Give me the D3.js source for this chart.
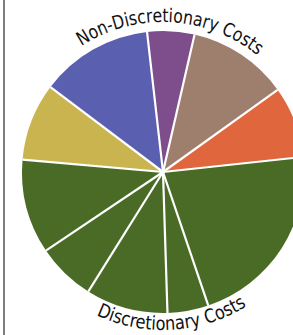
<!DOCTYPE html>
<html><head><meta charset="utf-8">
<script src="https://cdn.jsdelivr.net/npm/d3@7"></script>
<style>
html,body{margin:0;padding:0;background:#fff;}
svg{display:block;}
</style></head>
<body>
<svg id="chart" width="293" height="335"></svg>
<script>
// categories (slices, clockwise from top)
const categories = ["Non-Disc A","Non-Disc B","Non-Disc C","Disc A","Disc B","Disc C","Disc D","Disc E","Non-Disc D","Non-Disc E"];
// share of total (%)
const values = [5.4, 11.5, 8.2, 21.5, 4.7, 9.4, 6.7, 10.8, 8.9, 12.9];
const colors = ["#7e4e8c","#9e7e6c","#e0663d","#4a6b26","#4a6b26","#4a6b26","#4a6b26","#4a6b26","#c9b450","#5a5fb0"];
const groupLabels = ["Non-Discretionary Costs","Discretionary Costs"];

const svg = d3.select("#chart");
const cx = 163, cy = 172, R = 141;
const g = svg.append("g").attr("transform", `translate(${cx},${cy})`);

const pie = d3.pie().sort(null).value(d => d)
  .startAngle(-6.5 * Math.PI/180).endAngle(353.5 * Math.PI/180);
const arcs = pie(values);
const arc = d3.arc().innerRadius(0).outerRadius(R);

g.selectAll("path.slice").data(arcs).enter().append("path")
  .attr("class","slice")
  .attr("d", arc)
  .attr("fill", (d,i) => colors[i]);

// white separators
g.selectAll("line.sep").data(arcs).enter().append("line")
  .attr("x1",0).attr("y1",0)
  .attr("x2", d => R*Math.sin(d.startAngle))
  .attr("y2", d => -R*Math.cos(d.startAngle))
  .attr("stroke","#fff").attr("stroke-width",2.2);

// curved labels
const defs = svg.append("defs");
function pt(r, deg){ const a = deg*Math.PI/180; return [r*Math.sin(a), -r*Math.cos(a)]; }
const rt = 150;
let p1 = pt(rt,-80), p2 = pt(rt,80);
defs.append("path").attr("id","topPath")
  .attr("d", `M${p1[0]+cx},${p1[1]+cy} A${rt},${rt} 0 0 1 ${p2[0]+cx},${p2[1]+cy}`);
const rb = 158;
let q1 = pt(rb,260), q2 = pt(rb,100);
defs.append("path").attr("id","botPath")
  .attr("d", `M${q1[0]+cx},${q1[1]+cy} A${rb},${rb} 0 0 0 ${q2[0]+cx},${q2[1]+cy}`);

const font = "'Liberation Sans Narrow','DejaVu Sans Condensed','Arial Narrow',sans-serif";
// top text spans about -33..39 deg
const topLen = rt * 72 * Math.PI/180;
const topStart = (rt * 47 * Math.PI/180);
svg.append("text").attr("font-family",font).attr("font-size",19).attr("fill","#111")
  .append("textPath").attr("href","#topPath").attr("startOffset", topStart)
  .attr("textLength", topLen).attr("lengthAdjust","spacingAndGlyphs").text(groupLabels[0]);
// bottom text spans about 205..148 deg (path runs from 260 down to 100)
const botLen = rb * 57 * Math.PI/180;
const botStart = rb * 55 * Math.PI/180;
svg.append("text").attr("font-family",font).attr("font-size",19).attr("fill","#111")
  .append("textPath").attr("href","#botPath").attr("startOffset", botStart)
  .attr("textLength", botLen).attr("lengthAdjust","spacingAndGlyphs").text(groupLabels[1]);

// left frame line
svg.append("line").attr("x1",4).attr("x2",4).attr("y1",0).attr("y2",335)
  .attr("stroke","#555").attr("stroke-width",1.5);
</script>
</body></html>
